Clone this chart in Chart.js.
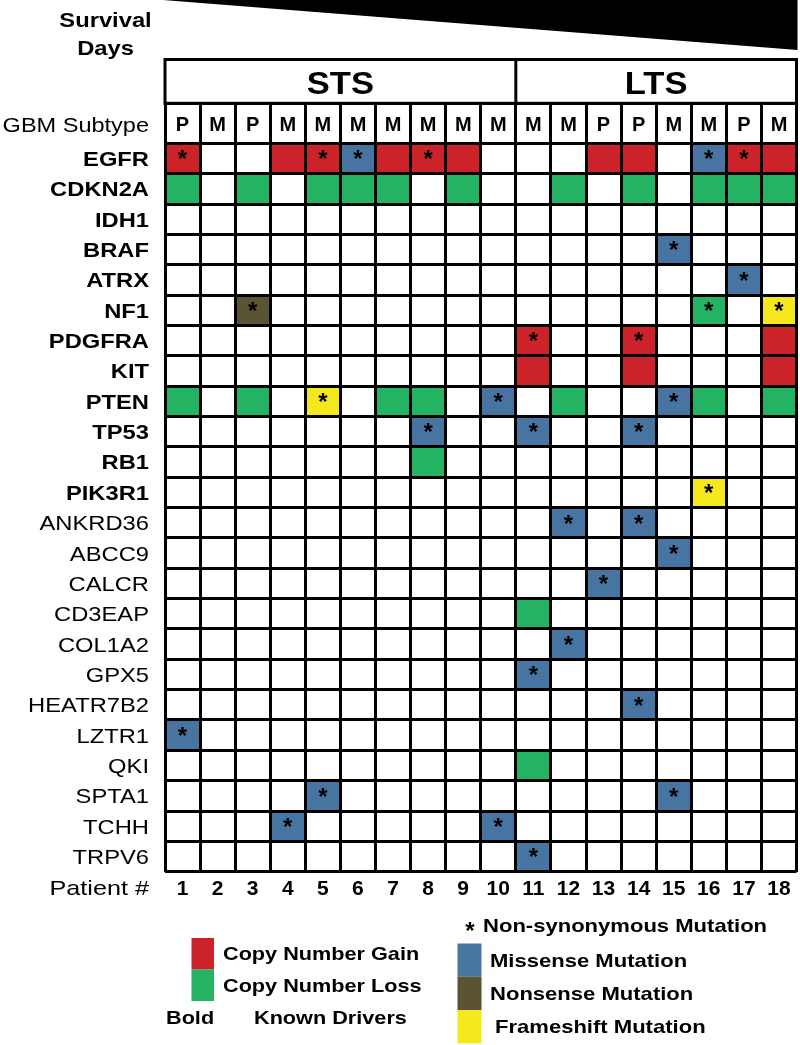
<!DOCTYPE html>
<html><head><meta charset="utf-8">
<script src="https://cdn.jsdelivr.net/npm/chart.js@4.4.1/dist/chart.umd.min.js"></script>
<style>html,body{margin:0;padding:0;background:#fff;}canvas{display:block}</style>
</head><body>
<canvas id="c" width="800" height="1045"></canvas>
<script>
// ---------- data ----------
const patients = ['1','2','3','4','5','6','7','8','9','10','11','12','13','14','15','16','17','18'];
const groupLabels = ['STS','LTS'];
const groupSizes = [10, 8];
const subtypes = ['P','M','P','M','M','M','M','M','M','M','M','M','P','P','M','M','P','M'];
const genes = ['EGFR','CDKN2A','IDH1','BRAF','ATRX','NF1','PDGFRA','KIT','PTEN','TP53','RB1','PIK3R1',
  'ANKRD36','ABCC9','CALCR','CD3EAP','COL1A2','GPX5','HEATR7B2','LZTR1','QKI','SPTA1','TCHH','TRPV6'];
const knownDrivers = ['EGFR','CDKN2A','IDH1','BRAF','ATRX','NF1','PDGFRA','KIT','PTEN','TP53','RB1','PIK3R1'];
// codes: G gain, L loss, S missense, N nonsense, F frameshift; '*' = non-synonymous mutation
const rowEGFR     = ['G*','','','G','G*','S*','G','G*','G','','','','G','G','','S*','G*','G'];
const rowCDKN2A   = ['L','','L','','L','L','L','','L','','','L','','L','','L','L','L'];
const rowIDH1     = ['','','','','','','','','','','','','','','','','',''];
const rowBRAF     = ['','','','','','','','','','','','','','','S*','','',''];
const rowATRX     = ['','','','','','','','','','','','','','','','','S*',''];
const rowNF1      = ['','','N*','','','','','','','','','','','','','L*','','F*'];
const rowPDGFRA   = ['','','','','','','','','','','G*','','','G*','','','','G'];
const rowKIT      = ['','','','','','','','','','','G','','','G','','','','G'];
const rowPTEN     = ['L','','L','','F*','','L','L','','S*','','L','','','S*','L','','L'];
const rowTP53     = ['','','','','','','','S*','','','S*','','','S*','','','',''];
const rowRB1      = ['','','','','','','','L','','','','','','','','','',''];
const rowPIK3R1   = ['','','','','','','','','','','','','','','','F*','',''];
const rowANKRD36  = ['','','','','','','','','','','','S*','','S*','','','',''];
const rowABCC9    = ['','','','','','','','','','','','','','','S*','','',''];
const rowCALCR    = ['','','','','','','','','','','','','S*','','','','',''];
const rowCD3EAP   = ['','','','','','','','','','','L','','','','','','',''];
const rowCOL1A2   = ['','','','','','','','','','','','S*','','','','','',''];
const rowGPX5     = ['','','','','','','','','','','S*','','','','','','',''];
const rowHEATR7B2 = ['','','','','','','','','','','','','','S*','','','',''];
const rowLZTR1    = ['S*','','','','','','','','','','','','','','','','',''];
const rowQKI      = ['','','','','','','','','','','L','','','','','','',''];
const rowSPTA1    = ['','','','','S*','','','','','','','','','','S*','','',''];
const rowTCHH     = ['','','','S*','','','','','','S*','','','','','','','',''];
const rowTRPV6    = ['','','','','','','','','','','S*','','','','','','',''];
const rows = [rowEGFR,rowCDKN2A,rowIDH1,rowBRAF,rowATRX,rowNF1,rowPDGFRA,rowKIT,rowPTEN,rowTP53,rowRB1,rowPIK3R1,
  rowANKRD36,rowABCC9,rowCALCR,rowCD3EAP,rowCOL1A2,rowGPX5,rowHEATR7B2,rowLZTR1,rowQKI,rowSPTA1,rowTCHH,rowTRPV6];
const typeCodes  = ['G','L','S','N','F'];
const typeColors = ['#CC2229','#24B263','#4874A2','#5A5434','#F6E81E'];
const legendLeft  = [['G','Copy Number Gain'],['L','Copy Number Loss']];
const legendRight = [['S','Missense Mutation'],['N','Nonsense Mutation'],['F','Frameshift Mutation']];
const subtypeRowUnits = 1.318; // subtype row height relative to a gene row

// ---------- helpers ----------
const colorOf = c => { const i = typeCodes.indexOf(c.replace('*','')); return i < 0 ? 'rgba(0,0,0,0)' : typeColors[i]; };
const FONT = '"Liberation Sans", Arial, sans-serif';
function txt(ctx, s, x, yc, size, bold, align, sx) {
  // yc = visual cap-centre
  ctx.save();
  ctx.font = (bold ? 'bold ' : '') + size + 'px ' + FONT;
  ctx.fillStyle = '#000';
  ctx.textBaseline = 'alphabetic';
  ctx.textAlign = align;
  ctx.translate(x, yc + 0.358 * size);
  ctx.scale(sx || 1, 1);
  ctx.fillText(s, 0, 0);
  ctx.restore();
}

const datasets = rows.map((r, gi) => ({
  label: genes[gi],
  data: r.map(c => c ? [gi, gi + 1] : null),
  backgroundColor: r.map(colorOf),
  borderWidth: 0
}));

const overlay = {
  id: 'overlay',
  afterDraw(chart) {
    const ctx = chart.ctx, xs = chart.scales.x, ys = chart.scales.y, ca = chart.chartArea;
    const colW = xs.getPixelForValue(1) - xs.getPixelForValue(0);
    const edge = i => xs.getPixelForValue(0) + (i - 0.5) * colW;
    // survival wedge
    ctx.save();
    ctx.fillStyle = '#000';
    ctx.beginPath();
    ctx.moveTo(ca.left - 2, 0); ctx.lineTo(ca.right + 1, 0); ctx.lineTo(ca.right + 1, 50); ctx.closePath();
    ctx.fill();
    // header box
    const hTop = 59.5;
    ctx.strokeStyle = '#000'; ctx.lineWidth = 3;
    ctx.strokeRect(ca.left, hTop, ca.right - ca.left, ca.top - hTop);
    let start = 0;
    groupSizes.forEach((n, gi) => {
      if (gi > 0) { const bx = edge(start); ctx.beginPath(); ctx.moveTo(bx, hTop); ctx.lineTo(bx, ca.top); ctx.stroke(); }
      const cx = (edge(start) + edge(start + n)) / 2;
      txt(ctx, groupLabels[gi], cx, 83, 32, true, 'center', 1.08);
      start += n;
    });
    ctx.restore();
    // titles
    txt(ctx, 'Survival', 105.5, 19.5, 21, true, 'center', 1.13);
    txt(ctx, 'Days', 105.5, 47.5, 21, true, 'center', 1.13);
    const subC = ys.getPixelForValue(-subtypeRowUnits / 2) + 1;
    txt(ctx, 'GBM Subtype', 149, subC, 21, false, 'right', 1.12);
    subtypes.forEach((s, i) => txt(ctx, s, xs.getPixelForValue(i), subC, 20, true, 'center', 1));
    // gene labels
    genes.forEach((g, gi) => {
      const yc = ys.getPixelForValue(gi + 0.5);
      txt(ctx, g, 149, yc, 21, knownDrivers.includes(g), 'right', 1.13);
    });
    // stars
    ctx.save();
    ctx.font = 'bold 24px ' + FONT; ctx.textAlign = 'center'; ctx.textBaseline = 'alphabetic'; ctx.fillStyle = '#000';
    rows.forEach((r, gi) => r.forEach((c, pi) => {
      if (c.includes('*')) ctx.fillText('*', xs.getPixelForValue(pi), ys.getPixelForValue(gi) + 24);
    }));
    ctx.restore();
    // patient numbers
    const nY = ca.bottom + 16;
    txt(ctx, 'Patient #', 149, nY, 21, false, 'right', 1.2);
    patients.forEach((p, i) => txt(ctx, p, xs.getPixelForValue(i), nY, 21, true, 'center', 1));
    // legend left
    ctx.save();
    legendLeft.forEach(([code, label], i) => {
      ctx.fillStyle = typeColors[typeCodes.indexOf(code)];
      ctx.fillRect(191.5, 938 + i * 31.5, 22.5, 31.5);
      txt(ctx, label, 223, 953.5 + i * 31.5, 19, true, 'left', 1.14);
    });
    txt(ctx, 'Bold', 166, 1017, 19, true, 'left', 1.14);
    txt(ctx, 'Known Drivers', 254, 1017, 19, true, 'left', 1.14);
    // legend right
    ctx.font = 'bold 24px ' + FONT; ctx.fillStyle = '#000'; ctx.textAlign = 'center';
    ctx.fillText('*', 470, 939);
    txt(ctx, 'Non-synonymous Mutation', 483, 925.5, 19, true, 'left', 1.16);
    legendRight.forEach(([code, label], i) => {
      ctx.fillStyle = typeColors[typeCodes.indexOf(code)];
      ctx.fillRect(457.5, 943.5 + i * 33.3, 24, 33.3);
      txt(ctx, label, i === 2 ? 495 : 490, 960 + i * 33.3, 19, true, 'left', 1.16);
    });
    ctx.restore();
  }
};

new Chart(document.getElementById('c'), {
  type: 'bar',
  data: { labels: patients, datasets },
  options: {
    responsive: false, animation: false, devicePixelRatio: 1,
    layout: { padding: { left: 165, right: 3.5, top: 103.3, bottom: 173.3 } },
    plugins: { legend: { display: false }, tooltip: { enabled: false } },
    datasets: { bar: { grouped: false, barPercentage: 1, categoryPercentage: 1 } },
    scales: {
      x: {
        type: 'category', offset: true,
        ticks: { display: false },
        grid: { offset: true, color: '#000', lineWidth: 3, drawTicks: false, z: 1 },
        border: { display: false }
      },
      y: {
        type: 'linear', reverse: true, min: -subtypeRowUnits, max: genes.length,
        ticks: { display: false },
        afterBuildTicks: ax => { ax.ticks = [-subtypeRowUnits].concat(genes.map((g, i) => i), [genes.length]).map(v => ({ value: v })); },
        grid: { color: '#000', lineWidth: 3, drawTicks: false, z: 1 },
        border: { display: false }
      }
    }
  },
  plugins: [overlay]
});
</script>
</body></html>
